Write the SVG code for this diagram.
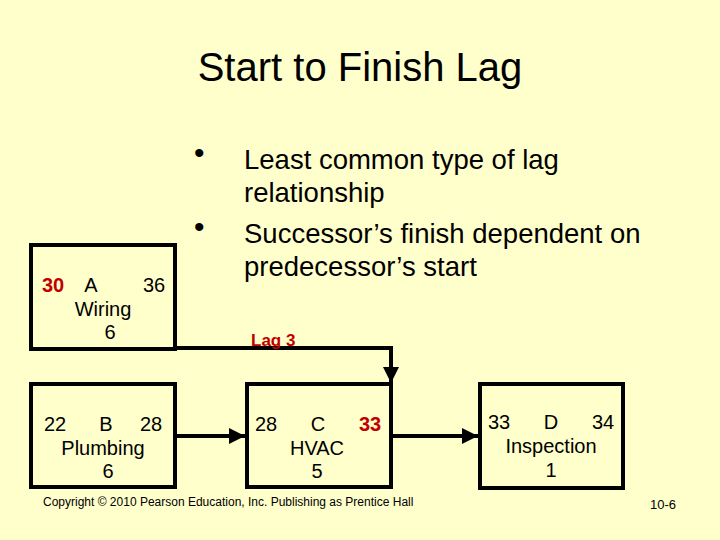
<svg xmlns="http://www.w3.org/2000/svg" width="720" height="540" viewBox="0 0 720 540">
<defs><style>
text{font-family:"Liberation Sans",Arial,sans-serif;fill:#000}
.box{fill:none;stroke:#000;stroke-width:4}
.n{font-size:20px}
.r{fill:#c00000;font-weight:bold}
.c{stroke:#000;stroke-width:4;fill:none}
</style>
<marker id="ah" viewBox="0 0 10 10" refX="10" refY="5" markerWidth="4" markerHeight="4" orient="auto" markerUnits="strokeWidth"><path d="M0,0L10,5L0,10z" fill="#000"/></marker>
</defs>
<rect width="720" height="540" fill="#ffffcc"/>
<text x="360" y="81" font-size="40" text-anchor="middle">Start to Finish Lag</text>
<g font-size="27.5">
<text x="194" y="163" font-size="30">•</text>
<text x="244" y="169">Least common type of lag</text>
<text x="244" y="202">relationship</text>
<text x="194" y="237" font-size="30">•</text>
<text x="244" y="243">Successor’s finish dependent on</text>
<text x="244" y="276">predecessor’s start</text>
</g>
<g id="A"><rect class="box" x="31" y="245" width="144" height="104"/>
<text class="n r" x="42" y="292">30</text><text class="n" x="91" y="292" text-anchor="middle">A</text><text class="n" x="154" y="292" text-anchor="middle">36</text>
<text class="n" x="103" y="316" text-anchor="middle">Wiring</text><text class="n" x="110" y="339" text-anchor="middle">6</text></g>
<g id="B"><rect class="box" x="31" y="384" width="144" height="103"/>
<text class="n" x="55" y="431" text-anchor="middle">22</text><text class="n" x="106" y="431" text-anchor="middle">B</text><text class="n" x="151" y="431" text-anchor="middle">28</text>
<text class="n" x="103" y="455" text-anchor="middle">Plumbing</text><text class="n" x="108" y="478" text-anchor="middle">6</text></g>
<g id="C"><rect class="box" x="247" y="384" width="144" height="103"/>
<text class="n" x="266" y="431" text-anchor="middle">28</text><text class="n" x="318" y="431" text-anchor="middle">C</text><text class="n r" x="370" y="431" text-anchor="middle">33</text>
<text class="n" x="317" y="455" text-anchor="middle">HVAC</text><text class="n" x="317" y="478" text-anchor="middle">5</text></g>
<g id="D"><rect class="box" x="480" y="384" width="143" height="104"/>
<text class="n" x="499" y="429" text-anchor="middle">33</text><text class="n" x="551" y="429" text-anchor="middle">D</text><text class="n" x="603" y="429" text-anchor="middle">34</text>
<text class="n" x="551" y="453" text-anchor="middle">Inspection</text><text class="n" x="551" y="477" text-anchor="middle">1</text></g>
<g id="connectors">
<path class="c" d="M175,348H391V383" marker-end="url(#ah)"/>
<path class="c" d="M175,436H245" marker-end="url(#ah)"/>
<path class="c" d="M391,436H478" marker-end="url(#ah)"/>
<text class="r" x="251" y="346" font-size="17">Lag 3</text>
</g>
<text x="43" y="506" font-size="12">Copyright © 2010 Pearson Education, Inc. Publishing as Prentice Hall</text>
<text x="650" y="509" font-size="13">10-6</text>
</svg>
